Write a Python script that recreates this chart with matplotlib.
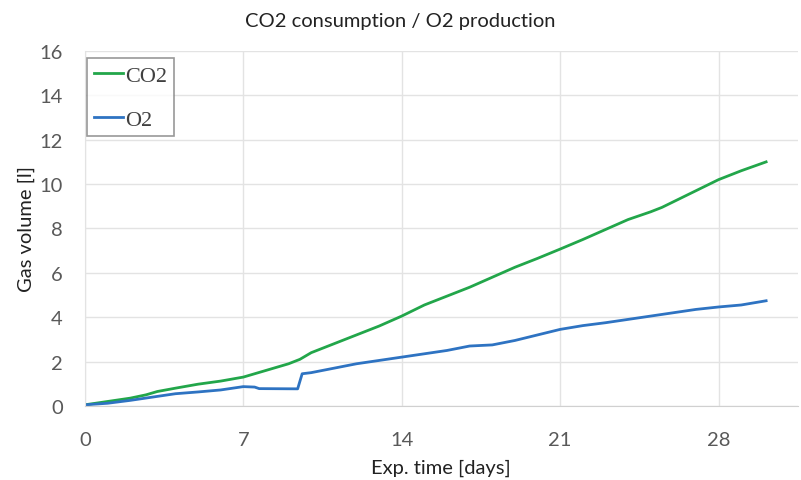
import matplotlib
matplotlib.use("Agg")
import matplotlib.pyplot as plt

co2_days = [0, 1, 2, 2.7, 3.2, 4, 5, 6, 7, 8, 9, 9.5, 10, 11, 12, 13, 14, 14.5, 15, 16, 17, 18, 19, 20, 21, 22, 23, 24, 25, 25.5, 26, 27, 28, 29, 30.1]
co2_vals = [0.05, 0.2, 0.35, 0.5, 0.65, 0.8, 0.98, 1.12, 1.3, 1.6, 1.9, 2.1, 2.4, 2.8, 3.2, 3.6, 4.05, 4.3, 4.55, 4.95, 5.35, 5.8, 6.25, 6.65, 7.07, 7.5, 7.95, 8.4, 8.75, 8.95, 9.2, 9.7, 10.2, 10.6, 11.0]

o2_days = [0, 1, 2, 3, 4, 5, 6, 7, 7.5, 7.7, 9.4, 9.6, 10, 11, 12, 13, 14, 15, 16, 17, 18, 19, 20, 21, 22, 23, 24, 25, 26, 27, 28, 29, 30.1]
o2_vals = [0.05, 0.12, 0.25, 0.4, 0.55, 0.63, 0.72, 0.87, 0.85, 0.78, 0.77, 1.45, 1.5, 1.7, 1.9, 2.05, 2.2, 2.35, 2.5, 2.7, 2.75, 2.95, 3.2, 3.45, 3.62, 3.75, 3.9, 4.05, 4.2, 4.35, 4.46, 4.55, 4.74]

x_ticks = [0, 7, 14, 21, 28]
y_ticks = [0, 2, 4, 6, 8, 10, 12, 14, 16]

plt.rcParams['font.family'] = ['Lato', 'DejaVu Sans']

fig = plt.figure(figsize=(8.01, 4.81), dpi=100)
ax = fig.add_axes([0.106, 0.154, 0.89, 0.738])

ax.plot(co2_days, co2_vals, color='#22a64a', lw=2, label='CO2')
ax.plot(o2_days, o2_vals, color='#2e73c2', lw=2, label='O2')

ax.set_xlim(0, 31.5)
ax.set_ylim(0, 16)
ax.set_xticks(x_ticks)
ax.set_yticks(y_ticks)
ax.grid(True, color='#e3e3e3', lw=1)
ax.set_axisbelow(True)
for s in ['top', 'right']:
    ax.spines[s].set_visible(False)
ax.spines['left'].set_color('#e3e3e3')
ax.spines['bottom'].set_color('#d0d0d0')
ax.tick_params(length=0, labelsize=14.5, labelcolor='#595959')
ax.tick_params(axis='y', pad=16)
ax.tick_params(axis='x', pad=18)

ax.set_xlabel('Exp. time [days]', fontsize=14.5, color='#222222', labelpad=8)
ax.set_ylabel('Gas volume [l]', fontsize=14.5, color='#222222', labelpad=3)
fig.text(0.5, 0.956, 'CO2 consumption / O2 production', ha='center', va='center', fontsize=14.5, color='#222222')

leg = ax.legend(loc='upper left', bbox_to_anchor=(0.0, 0.985), prop={'family': 'Liberation Serif', 'size': 16},
                frameon=True, fancybox=False, handlelength=1.3, handletextpad=0.1, borderpad=0.3, labelspacing=1.05,
                borderaxespad=0.1)
leg.get_frame().set_edgecolor('#7f7f7f')
leg.get_frame().set_linewidth(1.2)
for t in leg.get_texts():
    t.set_color('#404040')

fig.savefig('out.png', dpi=100)
